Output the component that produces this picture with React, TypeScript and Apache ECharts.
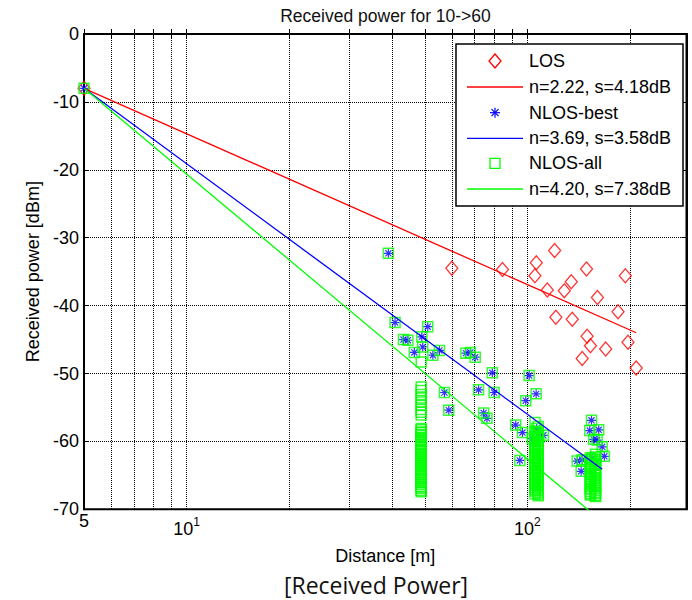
import React, { useEffect, useRef } from 'react';
import * as echarts from 'echarts';

// ---- axes ----
const xMin = 5;
const xMax = 293;
const xGridValues = [5, 6, 7, 8, 9, 10, 20, 30, 40, 50, 60, 70, 80, 90, 100, 200];
const xLabelValues = [5, 10, 100];
const yMin = -70;
const yMax = 0;
const yStep = 10;

// ---- LOS measurements ----
const losDist = [5, 60, 84.5, 106.2, 105.2, 120.2, 114.4, 134.5, 128.3, 149.1, 193.8, 160.5, 184.5, 121.2, 135.4, 149.7, 153.1, 169.7, 197.3, 144.8, 208.6];
const losPower = [-8, -34.5, -34.7, -33.7, -35.6, -31.9, -37.7, -36.5, -37.8, -34.6, -35.6, -38.8, -40.9, -41.7, -42.0, -44.5, -45.9, -46.4, -45.4, -47.8, -49.2];

// ---- NLOS-best measurements ----
const bestDist = [5, 39.1, 40.9, 51.0, 43.3, 44.6, 49.0, 49.3, 46.6, 52.8, 55.2, 66.0, 68.0, 70.3, 78.9, 101.2, 57.1, 58.8, 71.9, 79.9, 74.4, 76.1, 92.4, 96.7, 95.0, 98.9, 106.1, 106.5, 103.4, 108.1, 111.4, 154.2, 152.4, 161.9, 156.5, 160.2, 165.7, 168.2, 140.0, 144.8, 143.8, 158.3, 154.9];
const bestPower = [-8, -32.3, -42.5, -43.1, -45.0, -45.1, -44.6, -46.1, -46.9, -47.3, -46.6, -47.0, -46.9, -47.6, -49.9, -50.3, -52.8, -55.4, -52.4, -52.8, -55.8, -56.6, -57.6, -58.7, -62.8, -54.0, -53.0, -58.1, -59.6, -59.4, -59.1, -56.9, -58.4, -58.3, -59.7, -59.8, -60.8, -62.2, -62.9, -62.7, -64.4, -63.3, -62.5];

// ---- NLOS-all additional measurements (stacks of squares) ----
const stackDistA = 48.8;
const stackPowerA = [
  -48.3, -52.0, -52.5, -53.1, -53.6, -54.2, -54.7, -55.3, -55.7, -56.1,
  -58.1, -58.3, -58.6, -58.7, -59.0, -59.1, -59.4, -59.5, -59.8, -59.9,
  -60.1, -60.4, -60.5, -60.8, -60.9, -61.2, -61.3, -61.5, -61.8, -61.9,
  -62.1, -62.4, -62.5, -62.7, -63.0, -63.1, -63.3, -63.6, -63.7, -63.9,
  -64.2, -64.3, -64.5, -64.8, -64.9, -65.1, -65.4, -65.5, -65.7, -66.0,
  -66.1, -66.3, -66.6, -66.7, -66.9, -67.2, -67.4,
];
const stackDistB1 = 105.3;
const stackPowerB1 = [
  -57.2, -58.5, -58.9, -59.3, -59.8, -60.1, -60.4, -60.8, -61.0, -61.3,
  -61.5, -61.9, -62.1, -62.4, -62.6, -63.0, -63.2, -63.5, -63.8, -64.0,
  -64.3, -64.6, -64.9, -65.1, -65.4, -65.7, -66.0, -66.2, -66.5, -66.8,
  -67.1, -67.3, -67.7,
];
const stackDistB2 = 107.6;
const stackPowerB2 = [
  -57.8, -58.7, -59.1, -59.5, -60.0, -60.3, -60.6, -60.9, -61.2, -61.4,
  -61.8, -62.0, -62.3, -62.5, -62.8, -63.1, -63.4, -63.6, -63.9, -64.2,
  -64.4, -64.8, -65.0, -65.3, -65.5, -65.9, -66.1, -66.4, -66.6, -66.9,
  -67.2, -67.5, -67.8, -68.0,
];
const stackDistC1 = 153.1;
const stackPowerC1 = [
  -62.4, -62.7, -63.0, -63.3, -63.6, -63.8, -64.1, -64.4, -64.7, -64.9,
  -65.2, -65.5, -65.8, -66.0, -66.3, -66.6, -66.9, -67.1, -67.4, -67.7,
  -67.9,
];
const stackDistC2 = 158.4;
const stackPowerC2 = [
  -61.9, -62.3, -62.7, -63.0, -63.3, -63.5, -63.9, -64.2, -64.4, -64.7,
  -65.0, -65.3, -65.5, -65.8, -66.1, -66.4, -66.6, -66.9, -67.2, -67.5,
  -67.7, -68.0, -68.1,
];

// ---- fitted path-loss lines ----
const losFitDist = [5, 208.6];
const losFitPower = [-8, -44.0];
const bestFitDist = [5, 165.7];
const bestFitPower = [-8, -64.1];
const allFitDist = [5, 165.7];
const allFitPower = [-8, -71.8];

const legendNames = ['LOS', 'n=2.22, s=4.18dB', 'NLOS-best', 'n=3.69, s=3.58dB', 'NLOS-all', 'n=4.20, s=7.38dB'];
const titleText = 'Received power for 10->60';
const xName = 'Distance [m]';
const yName = 'Received power [dBm]';
const caption = '[Received Power]';

const RED = '#ff0000';
const BLUE = '#0000ff';
const GREEN = '#00ff00';
const FONT = '"Liberation Sans", Arial, Helvetica, sans-serif';
const ASTERISK = 'path://M5,0L5,10M0,5L10,5M1.6,1.6L8.4,8.4M1.6,8.4L8.4,1.6';

export default function App() {
  const ref = useRef<HTMLDivElement>(null);
  useEffect(() => {
    document.body.style.margin = '0';
    const chart = echarts.init(ref.current as HTMLDivElement, null, { renderer: 'svg' });
    const L = (d: number) => Math.log10(d);
    const pts = (ds: number[], ps: number[]) => ds.map((d, i) => [L(d), ps[i]]);
    const stack = (d: number, ps: number[]) => ps.map((p) => [L(d), p]);

    const allPoints = [
      ...pts(bestDist, bestPower),
      ...stack(stackDistA, stackPowerA),
      ...stack(stackDistB1, stackPowerB1),
      ...stack(stackDistB2, stackPowerB2),
      ...stack(stackDistC1, stackPowerC1),
      ...stack(stackDistC2, stackPowerC2),
    ];

    const legendX = 456;
    const legendY = 44;
    const rowY = [61, 87, 112.7, 138.3, 163.3, 189];
    const mx = 495;
    const legendGraphics: any[] = [
      { type: 'rect', z: 100, shape: { x: legendX, y: legendY, width: 227, height: 162 }, style: { fill: '#fff', stroke: '#000', lineWidth: 1.5 } },
      { type: 'polygon', z: 101, shape: { points: [[mx, rowY[0] - 7], [mx + 6, rowY[0]], [mx, rowY[0] + 7], [mx - 6, rowY[0]]] }, style: { fill: 'none', stroke: RED, lineWidth: 1.3 } },
      { type: 'line', z: 101, shape: { x1: 467, y1: rowY[1], x2: 523, y2: rowY[1] }, style: { stroke: RED, lineWidth: 1.3 } },
      { type: 'line', z: 101, shape: { x1: mx, y1: rowY[2] - 5, x2: mx, y2: rowY[2] + 5 }, style: { stroke: BLUE, lineWidth: 1.2 } },
      { type: 'line', z: 101, shape: { x1: mx - 5, y1: rowY[2], x2: mx + 5, y2: rowY[2] }, style: { stroke: BLUE, lineWidth: 1.2 } },
      { type: 'line', z: 101, shape: { x1: mx - 3.5, y1: rowY[2] - 3.5, x2: mx + 3.5, y2: rowY[2] + 3.5 }, style: { stroke: BLUE, lineWidth: 1.2 } },
      { type: 'line', z: 101, shape: { x1: mx - 3.5, y1: rowY[2] + 3.5, x2: mx + 3.5, y2: rowY[2] - 3.5 }, style: { stroke: BLUE, lineWidth: 1.2 } },
      { type: 'line', z: 101, shape: { x1: 467, y1: rowY[3], x2: 523, y2: rowY[3] }, style: { stroke: BLUE, lineWidth: 1.3 } },
      { type: 'rect', z: 101, shape: { x: mx - 5, y: rowY[4] - 5, width: 10, height: 10 }, style: { fill: 'none', stroke: GREEN, lineWidth: 1.3 } },
      { type: 'line', z: 101, shape: { x1: 467, y1: rowY[5], x2: 523, y2: rowY[5] }, style: { stroke: GREEN, lineWidth: 1.3 } },
      ...legendNames.map((t, i) => ({
        type: 'text', z: 101, x: 529, y: rowY[i],
        style: { text: t, font: `18px ${FONT}`, fill: '#000', align: 'left', verticalAlign: 'middle' },
      })),
    ];

    const gridLineStyle = { color: '#000', type: [1, 1], width: 1 };
    const option: any = {
      animation: false,
      backgroundColor: '#fff',
      grid: { left: 84, right: 5.5, top: 34, bottom: 90.7, show: true, borderColor: '#000', borderWidth: 2, backgroundColor: 'transparent' },
      xAxis: [
        {
          type: 'value',
          min: L(xMin),
          max: L(xMax),
          name: xName,
          nameLocation: 'middle',
          nameGap: 38,
          nameTextStyle: { fontSize: 18, fontFamily: FONT, color: '#000' },
          axisLine: { show: true, lineStyle: { color: '#000', width: 2 } },
          axisTick: { show: true, inside: true, length: 5, customValues: xGridValues.map(L), lineStyle: { color: '#000' } },
          splitLine: { show: true, lineStyle: gridLineStyle },
          axisLabel: {
            customValues: xLabelValues.map(L),
            margin: 3,
            color: '#000',
            fontFamily: FONT,
            fontSize: 18,
            formatter: (v: number) => {
              if (Math.abs(v - L(xMin)) < 1e-6) return `{f|${xMin}}`;
              return `{b|10}{s|${Math.round(v)}}`;
            },
            rich: {
              f: { fontSize: 18, fontFamily: FONT, color: '#000', padding: [0, 0, 10, 0] },
              b: { fontSize: 18, fontFamily: FONT, color: '#000', padding: [8, 0, 0, 0] },
              s: { fontSize: 12, fontFamily: FONT, color: '#000', padding: [0, 0, 6, 0] },
            },
          },
        },
        {
          type: 'value',
          position: 'top',
          min: L(xMin),
          max: L(xMax),
          axisLine: { show: true, lineStyle: { color: '#000', width: 2 } },
          axisTick: { show: true, inside: true, length: 5, customValues: xGridValues.map(L), lineStyle: { color: '#000' } },
          splitLine: { show: false },
          axisLabel: { show: false },
        },
      ],
      yAxis: [
        {
          type: 'value',
          min: yMin,
          max: yMax,
          interval: yStep,
          name: yName,
          nameLocation: 'middle',
          nameGap: 42,
          nameTextStyle: { fontSize: 18, fontFamily: FONT, color: '#000' },
          axisLine: { show: true, lineStyle: { color: '#000', width: 2 } },
          axisTick: { show: true, inside: true, length: 5, lineStyle: { color: '#000' } },
          splitLine: { show: true, lineStyle: gridLineStyle },
          axisLabel: { color: '#000', fontFamily: FONT, fontSize: 18, margin: 5 },
        },
        {
          type: 'value',
          position: 'right',
          min: yMin,
          max: yMax,
          interval: yStep,
          axisLine: { show: true, lineStyle: { color: '#000', width: 2 } },
          axisTick: { show: true, inside: true, length: 5, lineStyle: { color: '#000' } },
          splitLine: { show: false },
          axisLabel: { show: false },
        },
      ],
      series: [
        {
          name: legendNames[0], type: 'scatter', silent: true,
          symbol: 'diamond', symbolSize: [12, 14],
          itemStyle: { color: 'transparent', borderColor: RED, borderWidth: 1.3 },
          data: pts(losDist, losPower),
        },
        {
          name: legendNames[1], type: 'line', silent: true, showSymbol: false, symbol: 'none',
          lineStyle: { color: RED, width: 1.3 },
          data: pts(losFitDist, losFitPower),
        },
        {
          name: legendNames[2], type: 'scatter', silent: true,
          symbol: ASTERISK, symbolSize: 9,
          itemStyle: { color: 'transparent', borderColor: BLUE, borderWidth: 1.2 },
          data: pts(bestDist, bestPower),
        },
        {
          name: legendNames[3], type: 'line', silent: true, showSymbol: false, symbol: 'none',
          lineStyle: { color: BLUE, width: 1.3 },
          data: pts(bestFitDist, bestFitPower),
        },
        {
          name: legendNames[4], type: 'scatter', silent: true,
          symbol: 'rect', symbolSize: 10,
          itemStyle: { color: 'transparent', borderColor: GREEN, borderWidth: 1.5 },
          data: allPoints,
        },
        {
          name: legendNames[5], type: 'line', silent: true, showSymbol: false, symbol: 'none', clip: true,
          lineStyle: { color: GREEN, width: 1.3 },
          data: pts(allFitDist, allFitPower),
        },
      ],
      graphic: [
        { type: 'text', x: 385.5, y: 16, style: { text: titleText, font: `17.5px ${FONT}`, fill: '#111', align: 'center', verticalAlign: 'middle' } },
        { type: 'text', x: 376, y: 585, style: { text: caption, font: `23px "Open Sans", sans-serif`, fill: '#111', align: 'center', verticalAlign: 'middle' } },
        ...legendGraphics,
      ],
    };
    chart.setOption(option);
    return () => chart.dispose();
  }, []);
  return <div ref={ref} style={{ width: 692, height: 600 }} />;
}
